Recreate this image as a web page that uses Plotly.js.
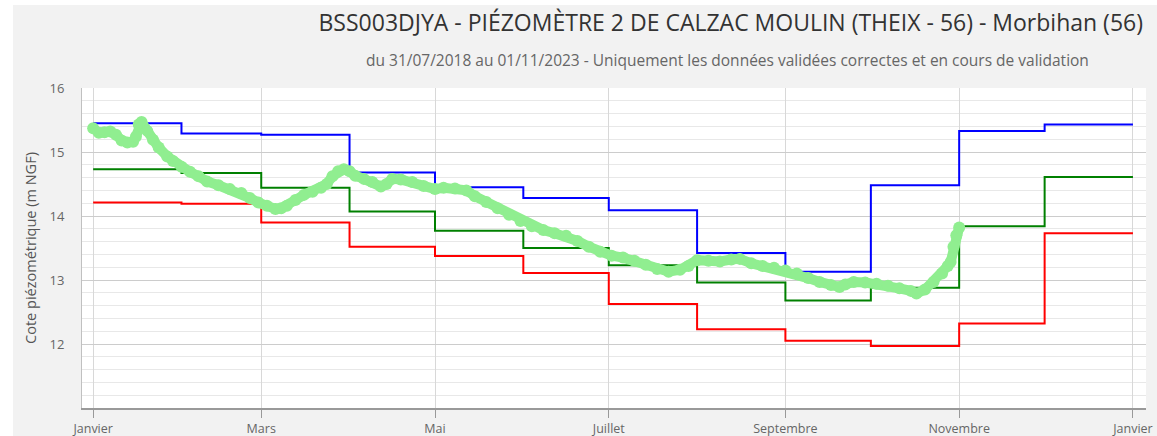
<!DOCTYPE html>
<html>
<head>
<meta charset="utf-8">
<script src="https://cdn.plot.ly/plotly-3.0.1.min.js"></script>
<style>
  html, body { margin: 0; padding: 0; background: #ffffff; }
  #chart { position: absolute; left: 13px; top: 5px; width: 1144px; height: 431px; }
</style>
</head>
<body>
<div id="chart"></div>
<script>
// Month boundaries (monthly reference statistics)
const monthStarts = ['2023-01-01','2023-02-01','2023-03-01','2023-04-01','2023-05-01','2023-06-01',
                     '2023-07-01','2023-08-01','2023-09-01','2023-10-01','2023-11-01','2023-12-01','2024-01-01'];
const maxValues  = [15.45, 15.29, 15.27, 14.68, 14.45, 14.28, 14.09, 13.42, 13.13, 14.48, 15.33, 15.43];
const meanValues = [14.73, 14.67, 14.44, 14.07, 13.77, 13.50, 13.23, 12.96, 12.68, 12.88, 13.84, 14.61];
const minValues  = [14.21, 14.19, 13.90, 13.52, 13.375, 13.11, 12.625, 12.23, 12.05, 11.97, 12.32, 13.73];

// Observed levels 2023
const obsDates = ['2023-01-01','2023-01-03','2023-01-05','2023-01-07','2023-01-09','2023-01-11','2023-01-13','2023-01-15',
  '2023-01-16','2023-01-17','2023-01-18','2023-01-20','2023-01-22','2023-01-24','2023-01-27','2023-01-29',
  '2023-02-01','2023-02-04','2023-02-07','2023-02-10','2023-02-14','2023-02-18','2023-02-22','2023-02-25','2023-02-28',
  '2023-03-03','2023-03-06','2023-03-08','2023-03-10','2023-03-13','2023-03-16','2023-03-19','2023-03-22','2023-03-24',
  '2023-03-26','2023-03-28','2023-03-30','2023-04-01','2023-04-03','2023-04-06','2023-04-09','2023-04-12','2023-04-14',
  '2023-04-16','2023-04-19','2023-04-23','2023-04-27','2023-05-01','2023-05-04','2023-05-08','2023-05-12','2023-05-15',
  '2023-05-19','2023-05-23','2023-05-27','2023-05-31','2023-06-04','2023-06-08','2023-06-12','2023-06-16','2023-06-20',
  '2023-06-24','2023-06-28','2023-07-02','2023-07-06','2023-07-10','2023-07-14','2023-07-18','2023-07-22','2023-07-26',
  '2023-07-29','2023-08-01','2023-08-05','2023-08-09','2023-08-13','2023-08-16','2023-08-20','2023-08-24','2023-08-28',
  '2023-09-01','2023-09-05','2023-09-09','2023-09-13','2023-09-17','2023-09-20','2023-09-22','2023-09-25','2023-09-29',
  '2023-10-03','2023-10-07','2023-10-11','2023-10-15','2023-10-17','2023-10-20','2023-10-23','2023-10-26','2023-10-28',
  '2023-10-29','2023-10-30','2023-10-31','2023-11-01'];
const obsValues = [15.37,15.30,15.31,15.32,15.27,15.18,15.15,15.16,
  15.24,15.43,15.47,15.33,15.19,15.07,14.93,14.86,
  14.77,14.69,14.62,14.54,14.48,14.42,14.36,14.28,14.21,
  14.16,14.11,14.12,14.16,14.25,14.33,14.38,14.44,14.50,
  14.62,14.70,14.73,14.70,14.63,14.58,14.53,14.46,14.50,
  14.58,14.57,14.53,14.47,14.42,14.44,14.43,14.40,14.31,
  14.22,14.12,14.02,13.92,13.84,13.78,13.73,13.69,13.61,
  13.52,13.44,13.38,13.35,13.30,13.24,13.17,13.13,13.16,
  13.22,13.31,13.30,13.29,13.32,13.33,13.26,13.22,13.19,
  13.15,13.10,13.03,12.97,12.92,12.89,12.93,12.97,12.96,
  12.94,12.91,12.87,12.83,12.79,12.85,12.97,13.10,13.22,
  13.28,13.52,13.70,13.82];

const tickDates  = ['2023-01-01','2023-03-01','2023-05-01','2023-07-01','2023-09-01','2023-11-01','2024-01-01'];
const tickLabels = ['Janvier','Mars','Mai','Juillet','Septembre','Novembre','Janvier'];
const yTickVals  = [12, 13, 14, 15, 16];

const titleText = 'BSS003DJYA - PIÉZOMÈTRE 2 DE CALZAC MOULIN (THEIX - 56) - Morbihan (56)';
const subtitleText = 'du 31/07/2018 au 01/11/2023 - Uniquement les données validées correctes et en cours de validation';
const yTitle = 'Cote piézométrique (m NGF)';

function stepTrace(vals, color, name) {
  return {
    x: monthStarts,
    y: vals.concat([vals[vals.length - 1]]),
    mode: 'lines', type: 'scatter', name: name,
    line: { shape: 'hv', color: color, width: 2 },
    hoverinfo: 'skip'
  };
}

const traces = [
  stepTrace(minValues, '#ff0000', 'Minimum'),
  stepTrace(meanValues, '#008000', 'Moyenne'),
  stepTrace(maxValues, '#0000ff', 'Maximum'),
  {
    x: obsDates, y: obsValues, type: 'scatter', mode: 'lines+markers', name: '2023',
    line: { color: '#90ee90', width: 10 },
    marker: { color: '#90ee90', size: 12 },
    hoverinfo: 'skip'
  }
];

const font = 'Open Sans, Liberation Sans, sans-serif';

const layout = {
  width: 1144, height: 431,
  paper_bgcolor: '#f2f2f2', plot_bgcolor: '#ffffff',
  margin: { l: 69, r: 11, t: 83, b: 28 },
  showlegend: false,
  font: { family: font, color: '#666666', size: 12 },
  title: {
    text: titleText,
    font: { family: font, size: 23, color: '#333333' },
    xref: 'container', x: 1130 / 1144, xanchor: 'right',
    yref: 'container', y: 1 - 18 / 431, yanchor: 'middle'
  },
  annotations: [{
    text: subtitleText, showarrow: false,
    xref: 'paper', x: (714.5 - 69) / 1064, xanchor: 'center',
    yref: 'paper', y: (403 - 55) / 320, yanchor: 'middle',
    font: { family: font, size: 15.5, color: '#666666' }
  }],
  xaxis: {
    type: 'date',
    range: ['2022-12-28 02:00', '2024-01-05 14:00'],
    tickmode: 'array', tickvals: tickDates, ticktext: tickLabels,
    showgrid: true, gridcolor: '#d8d8d8', gridwidth: 1,
    ticks: 'outside', ticklen: 8, tickcolor: '#999999',
    showline: true, linecolor: '#999999', linewidth: 2,
    tickfont: { family: font, size: 12.5, color: '#666666' },
    zeroline: false, fixedrange: true
  },
  yaxis: {
    range: [11, 16],
    tickmode: 'array', tickvals: yTickVals,
    showgrid: true, gridcolor: '#cccccc', gridwidth: 1,
    minor: { tickmode: 'linear', tick0: 11, dtick: 0.2, showgrid: true, gridcolor: '#e8e8e8', gridwidth: 1, ticks: '' },
    ticks: '', ticklabelstandoff: 14,
    showline: true, linecolor: '#c0c0c0', linewidth: 1,
    tickfont: { family: font, size: 13, color: '#666666' },
    title: { text: yTitle, font: { family: font, size: 14.5, color: '#555555' }, standoff: 9 },
    zeroline: false, fixedrange: true, automargin: false
  }
};

Plotly.newPlot('chart', traces, layout, { displayModeBar: false, staticPlot: true });
</script>
</body>
</html>
